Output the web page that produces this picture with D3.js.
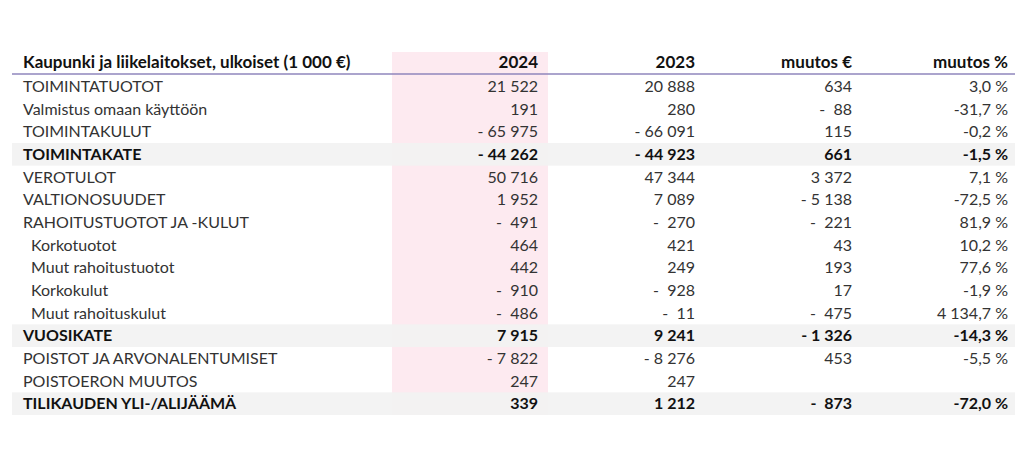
<!DOCTYPE html>
<html>
<head>
<meta charset="utf-8">
<script src="https://cdn.jsdelivr.net/npm/d3@7"></script>
<style>
  body { margin: 0; background: #fff; }
  svg { display: block; }
</style>
</head>
<body>
<div id="chart"></div>
<script>
const width = 1024;
const height = 465;

// table content
const title = 'Kaupunki ja liikelaitokset, ulkoiset (1 000 €)';
const columns = ['2024', '2023', 'muutos €', 'muutos %'];
const labels = [
  'TOIMINTATUOTOT', 'Valmistus omaan käyttöön', 'TOIMINTAKULUT', 'TOIMINTAKATE',
  'VEROTULOT', 'VALTIONOSUUDET', 'RAHOITUSTUOTOT JA -KULUT', 'Korkotuotot',
  'Muut rahoitustuotot', 'Korkokulut', 'Muut rahoituskulut', 'VUOSIKATE',
  'POISTOT JA ARVONALENTUMISET', 'POISTOERON MUUTOS', 'TILIKAUDEN YLI-/ALIJÄÄMÄ'
];
const values2024 = [21522, 191, -65975, -44262, 50716, 1952, -491, 464, 442, -910, -486, 7915, -7822, 247, 339];
const values2023 = [20888, 280, -66091, -44923, 47344, 7089, -270, 421, 249, -928, -11, 9241, -8276, 247, 1212];
const changeEur = [634, -88, 115, 661, 3372, -5138, -221, 43, 193, 17, -475, -1326, 453, null, -873];
const changePct = [3.0, -31.7, -0.2, -1.5, 7.1, -72.5, 81.9, 10.2, 77.6, -1.9, 4134.7, -14.3, -5.5, null, -72.0];
const boldRows = ['TOIMINTAKATE', 'VUOSIKATE', 'TILIKAUDEN YLI-/ALIJÄÄMÄ'];
const indentRows = ['Korkotuotot', 'Muut rahoitustuotot', 'Korkokulut', 'Muut rahoituskulut'];

const NB = '\u00a0';
const grp = (n) => d3.format(',')(n).replace(/,/g, NB);
function fmtNum(v) {
  if (v == null) return '';
  if (v < 0) {
    const a = Math.abs(v);
    return '-' + (a < 1000 ? NB + NB : NB) + grp(a);
  }
  return grp(v);
}
function fmtPct(v) {
  if (v == null) return '';
  const s = d3.format(',.1f')(Math.abs(v)).replace(/,/g, NB).replace('.', ',');
  return (v < 0 ? '-' : '') + s + NB + '%';
}

const rows = labels.map((label, i) => ({
  label,
  bold: boldRows.includes(label),
  indent: indentRows.includes(label),
  cells: [fmtNum(values2024[i]), fmtNum(values2023[i]), fmtNum(changeEur[i]), fmtPct(changePct[i])]
}));

const tableLeft = 12, tableRight = 1015;
const headerY = 68, ruleY = 74, tableTop = 75, tableBottom = 415;

const y = d3.scaleBand().domain(d3.range(rows.length)).range([tableTop, tableBottom]);
const colRight = d3.scaleOrdinal().domain(columns).range([538, 695, 852, 1008]);
const pink = { x0: 392, x1: 548, y0: 52 };

const svg = d3.select('#chart').append('svg')
  .attr('width', width)
  .attr('height', height)
  .style('font-family', 'Lato, "Open Sans", sans-serif')
  .style('font-size', '16px');

// highlighted 2024 column
svg.append('rect')
  .attr('x', pink.x0).attr('y', pink.y0)
  .attr('width', pink.x1 - pink.x0).attr('height', tableBottom - pink.y0)
  .attr('fill', '#fdeaf0');

// grey bands for the sum rows
svg.append('g').selectAll('rect')
  .data(rows.map((d, i) => ({ ...d, i })).filter((d) => d.bold))
  .join('rect')
  .attr('x', tableLeft).attr('y', (d) => y(d.i))
  .attr('width', tableRight - tableLeft).attr('height', y.bandwidth())
  .attr('fill', '#f2f2f2')
  .attr('fill-opacity', 0.92);

// header
const header = svg.append('g')
  .attr('font-weight', 700)
  .attr('fill', '#111')
  .style('font-size', '17px');
header.append('text').attr('x', 23).attr('y', headerY).text(title);
header.selectAll('text.col')
  .data(columns)
  .join('text')
  .attr('class', 'col')
  .attr('x', (d) => colRight(d))
  .attr('y', headerY)
  .attr('text-anchor', 'end')
  .text((d) => d);

svg.append('line')
  .attr('x1', tableLeft).attr('x2', tableRight)
  .attr('y1', ruleY).attr('y2', ruleY)
  .attr('stroke', '#8f86bd')
  .attr('stroke-width', 1.5);

// body rows
const row = svg.append('g').selectAll('g')
  .data(rows)
  .join('g')
  .attr('transform', (d, i) => `translate(0,${y(i) + y.bandwidth() / 2})`)
  .attr('font-weight', (d) => (d.bold ? 700 : 400))
  .attr('fill', (d) => (d.bold ? '#111' : '#333'));

row.append('text')
  .attr('x', (d) => (d.indent ? 31 : 23))
  .attr('dy', '0.36em')
  .text((d) => d.label);

row.selectAll('text.val')
  .data((d) => d.cells.map((c, j) => ({ c, col: columns[j] })))
  .join('text')
  .attr('class', 'val')
  .attr('x', (d) => colRight(d.col))
  .attr('dy', '0.36em')
  .attr('text-anchor', 'end')
  .text((d) => d.c);
</script>
</body>
</html>
